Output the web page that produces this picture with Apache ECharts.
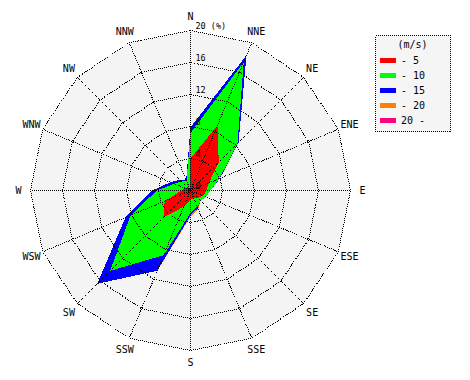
<!DOCTYPE html>
<html><head><meta charset="utf-8">
<script src="https://cdn.jsdelivr.net/npm/echarts@6/dist/echarts.min.js"></script>
<style>html,body{margin:0;padding:0;background:#fff}#c{width:470px;height:380px}
#c svg path{shape-rendering:crispEdges}</style>
</head><body><div id="c"></div>
<script>
// Directions clockwise from north
const directions = ['N','NNE','NE','ENE','E','ESE','SE','SSE','S','SSW','SW','WSW','W','WNW','NW','NNW'];
const speedClasses = ['- 5','- 10','- 15','- 20','20 -'];
const classColors = ['#ff0000','#00ff00','#0000ff','#ff8000','#ff0080'];
// Frequency (%) per speed class, clockwise from N
const freqTo5   = [4.0, 8.8, 5.0, 2.5, 2.0, 1.7, 1.3, 1.0, 1.2, 2.2, 4.8, 3.5, 1.1, 0.8, 0.5, 0.3];
const freqTo10  = [3.2, 8.6, 3.3, 1.4, 0.5, 0.4, 0.5, 1.2, 1.6, 6.55, 9.4, 4.6, 3.1, 1.4, 1.1, 1.0];
const freqTo15  = [0.7, 0.9, 0.2, 0.1, 0.0, 0.0, 0.0, 0.2, 0.3, 2.1, 2.3, 0.7, 0.6, 0.5, 0.3, 0.1];
const freqTo20  = [0, 0, 0, 0, 0, 0, 0, 0.1, 0.15, 0, 0, 0, 0, 0, 0, 0];
const freqOver20= [0, 0, 0, 0, 0, 0, 0, 0, 0, 0, 0, 0, 0, 0, 0, 0];
const radialTicks = [0, 4, 8, 12, 16, 20];

const classes = [freqTo5, freqTo10, freqTo15, freqTo20, freqOver20];
const cum = [];
let acc = directions.map(() => 0);
classes.forEach(arr => { acc = acc.map((a, i) => +(a + arr[i]).toFixed(3)); cum.push(acc); });

// radar runs counter-clockwise, so reorder
const ccw = directions.map((_, i) => (directions.length - i) % directions.length);
const rMax = radialTicks[radialTicks.length - 1];
const indicatorBg = ccw.map(j => ({ name: directions[j], min: 0, max: rMax }));
const indicatorFg = ccw.map((j, i) => i === 0
  ? { name: directions[j], min: 0, max: rMax }
  : { name: directions[j], min: 0, max: rMax, axisLabel: { show: false } });

const dotted = { color: '#000', width: 1, type: [1, 1], cap: 'butt' };
const mono = '"DejaVu Sans Mono", monospace';

const series = [];
for (let k = classes.length - 1; k >= 0; k--) {
  series.push({
    type: 'radar', radarIndex: 0, name: speedClasses[k], z: 2, silent: true,
    symbol: 'none',
    lineStyle: { width: 0, opacity: 0 },
    areaStyle: { color: classColors[k], opacity: 1 },
    itemStyle: { color: classColors[k] },
    data: [{ name: speedClasses[k], value: ccw.map(j => cum[k][j]) }]
  });
}

const chart = echarts.init(document.getElementById('c'), null, { renderer: 'svg' });
chart.setOption({
  animation: false,
  backgroundColor: '#fff',
  radar: [
    {
      center: [190.5, 190.5], radius: 160, startAngle: 90, splitNumber: radialTicks.length - 1,
      shape: 'polygon', indicator: indicatorBg, z: 0,
      axisName: { show: false },
      axisLine: { show: false }, axisTick: { show: false }, axisLabel: { show: false },
      splitLine: { show: false },
      splitArea: { show: true, areaStyle: { color: ['#f4f4f4'] } }
    },
    {
      center: [190.5, 190.5], radius: 160, startAngle: 90, splitNumber: radialTicks.length - 1,
      shape: 'polygon', indicator: indicatorFg, z: 10, nameGap: 12,
      axisName: { color: '#000', fontFamily: mono, fontSize: 10, align: 'center', verticalAlign: 'middle' },
      axisLine: { show: true, lineStyle: dotted },
      axisTick: { show: false },
      splitLine: { show: true, lineStyle: dotted },
      splitArea: { show: false },
      axisLabel: {
        show: true, color: '#000', fontFamily: mono, fontSize: 8.5, margin: -5,
        align: 'left', verticalAlign: 'bottom',
        formatter: v => (v === rMax ? v + ' (%)' : String(v))
      }
    }
  ],
  legend: {
    orient: 'vertical', left: 380, top: 55, padding: 0,
    itemWidth: 16, itemHeight: 5, itemGap: 5, icon: 'rect',
    selectedMode: false, data: speedClasses,
    textStyle: { color: '#000', fontFamily: mono, fontSize: 10 }
  },
  graphic: [
    { type: 'rect', z: 0, shape: { x: 375.5, y: 35.5, width: 75, height: 96 },
      style: { fill: '#f5f5f5', stroke: '#000', lineWidth: 1, lineDash: [1, 1] } },
    { type: 'text', z: 1, x: 412.5, y: 44,
      style: { text: '(m/s)', align: 'center', verticalAlign: 'middle', font: '10px ' + mono, fill: '#000' } }
  ],
  series: series
});
</script></body></html>
